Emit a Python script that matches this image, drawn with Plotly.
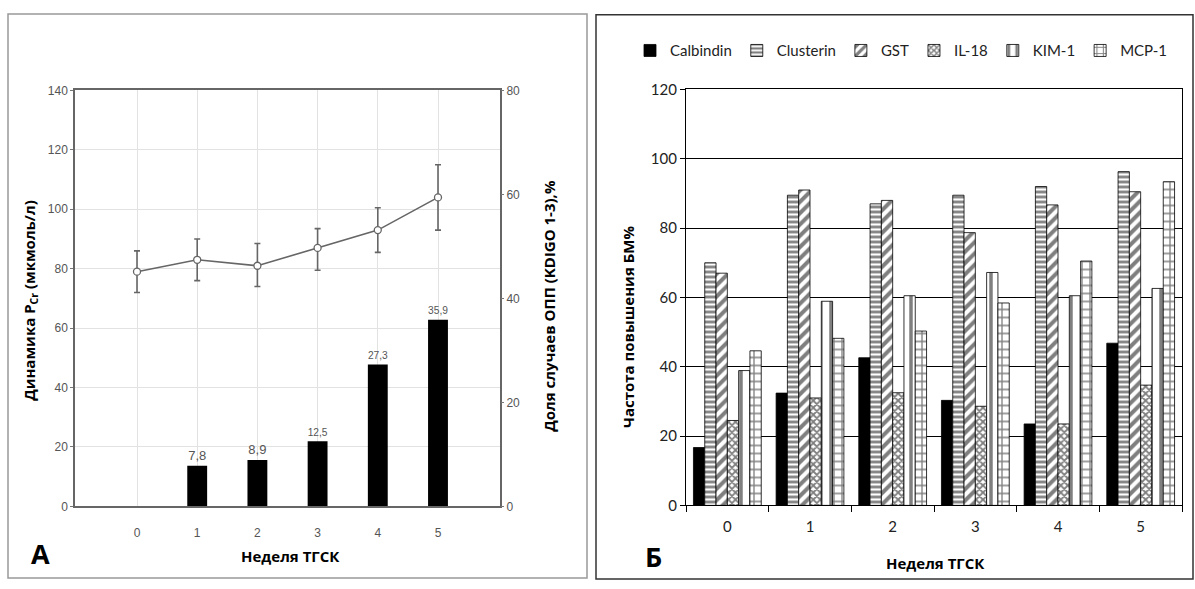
import plotly.graph_objects as go

# ---- Panel A: creatinine dynamics and share of AKI cases ----
weeks = [0, 1, 2, 3, 4, 5]
pcr_mean = [79, 83, 81, 87, 93, 104]
pcr_low = [72, 76, 74, 79.5, 85.5, 93]
pcr_high = [86, 90, 88.5, 93.5, 100.5, 115]

aki_weeks = [1, 2, 3, 4, 5]
aki_share = [7.8, 8.9, 12.5, 27.3, 35.9]

# ---- Panel B: frequency of biomarker elevation ----
week_labels = ["0", "1", "2", "3", "4", "5"]
biomarkers = ["Calbindin", "Clusterin", "GST", "IL-18", "KIM-1", "MCP-1"]
calbindin = [16.7, 32.4, 42.6, 30.3, 23.5, 46.8]
clusterin = [70, 89.5, 87, 89.5, 92, 96.3]
gst = [67, 91, 88, 78.7, 86.7, 90.5]
il18 = [24.5, 31, 32.5, 28.6, 23.5, 34.7]
kim1 = [38.9, 58.9, 60.5, 67.2, 60.5, 62.6]
mcp1 = [44.6, 48.2, 50.3, 58.4, 70.5, 93.4]
series_b = [calbindin, clusterin, gst, il18, kim1, mcp1]

W, H = 1195, 589


def px(x):
    return x / W


def py(y):
    return 1 - y / H


fig = go.Figure()

# Panel A traces
fig.add_trace(go.Bar(
    x=aki_weeks, y=aki_share, yaxis="y2", xaxis="x",
    width=0.33, marker=dict(color="black", line=dict(width=0)),
    text=[f"{v:.1f}".replace(".", ",") for v in aki_share],
    textposition="outside", cliponaxis=False,
    textfont=dict(family="Liberation Sans Narrow, Liberation Sans", size=13, color="#555"),
    showlegend=False,
))
fig.add_trace(go.Scatter(
    x=weeks, y=pcr_mean, xaxis="x", yaxis="y",
    mode="lines+markers",
    line=dict(color="#666", width=1.6),
    marker=dict(symbol="circle", size=7, color="white", line=dict(color="#666", width=1.3)),
    error_y=dict(type="data", symmetric=False,
                 array=[h - m for h, m in zip(pcr_high, pcr_mean)],
                 arrayminus=[m - l for m, l in zip(pcr_mean, pcr_low)],
                 color="#666", thickness=1.6, width=3),
    showlegend=False,
))

# Panel B traces
patterns = [
    dict(shape=""),
    dict(shape="-", size=5, solidity=0.55, fgcolor="black", bgcolor="white"),
    dict(shape="/", size=8, solidity=0.5, fgcolor="black", bgcolor="white"),
    dict(shape="x", size=5, solidity=0.6, fgcolor="black", bgcolor="white"),
    dict(shape="|", size=10, solidity=0.35, fgcolor="black", bgcolor="white"),
    dict(shape="+", size=8, solidity=0.3, fgcolor="black", bgcolor="white"),
]
for name, vals, pat in zip(biomarkers, series_b, patterns):
    color = "black" if pat["shape"] == "" else "white"
    fig.add_trace(go.Bar(
        x=week_labels, y=vals, name=name, xaxis="x2", yaxis="y3",
        marker=dict(color=color, pattern=pat, line=dict(color="black", width=0.8)),
    ))

tick_a = dict(family="Liberation Sans Narrow, Liberation Sans", size=12, color="#555")
tick_b = dict(family="Lato, Open Sans", size=15, color="#222")
title_font = dict(family="Open Sans", size=15, color="black")

fig.update_layout(
    width=W, height=H,
    margin=dict(l=0, r=0, t=0, b=0),
    paper_bgcolor="white", plot_bgcolor="rgba(0,0,0,0)",
    barmode="group", bargap=0.18, bargroupgap=0,
    xaxis=dict(domain=[px(75), px(500)], range=[-1.03, 6.03],
               tickvals=weeks, ticktext=[str(w) for w in weeks],
               showgrid=True, gridcolor="#e2e2e2", zeroline=False,
               showline=True, linecolor="#666", linewidth=1.5, mirror=True,
               ticks="", ticklabelstandoff=14, tickfont=tick_a, anchor="y"),
    yaxis=dict(domain=[py(512), py(83)], range=[0, 140], dtick=20,
               showgrid=True, gridcolor="#e2e2e2", zeroline=False,
               showline=True, linecolor="#666", linewidth=1.5, mirror=True,
               ticks="outside", ticklen=3, tickcolor="#777",
               tickfont=tick_a, anchor="x"),
    yaxis2=dict(overlaying="y", side="right", range=[0, 80], dtick=20,
                showgrid=False, zeroline=False, ticks="outside", ticklen=3,
                tickcolor="#777", tickfont=tick_a, anchor="x"),
    xaxis2=dict(domain=[px(686), px(1182)], type="category",
                categoryorder="array", categoryarray=week_labels,
                tickson="boundaries", ticks="outside", ticklen=6, tickcolor="black",
                showgrid=False, showline=True, linecolor="black", linewidth=1.2,
                mirror=True, tickfont=tick_b, ticklabelstandoff=8, anchor="y3"),
    yaxis3=dict(domain=[py(511), py(82)], range=[0, 120], dtick=20,
                showgrid=True, gridcolor="black", gridwidth=1, zeroline=False,
                showline=True, linecolor="black", linewidth=1.2, mirror=True,
                ticks="outside", ticklen=5, tickcolor="black",
                tickfont=tick_b, anchor="x2"),
    legend=dict(orientation="h", x=px(630), y=py(42), xanchor="left", yanchor="middle",
                font=dict(family="Lato, Open Sans", size=15, color="#222"),
                itemwidth=30, tracegroupgap=0, bgcolor="rgba(0,0,0,0)"),
    shapes=[
        dict(type="rect", xref="paper", yref="paper",
             x0=px(8), x1=px(587), y0=py(586), y1=py(4),
             line=dict(color="#999", width=1.5)),
        dict(type="rect", xref="paper", yref="paper",
             x0=px(596), x1=px(1193), y0=py(587), y1=py(5),
             line=dict(color="#333", width=1.5)),
    ],
    annotations=[
        dict(text="<b>Динамика P<sub>Cr</sub> (мкмоль/л)</b>", textangle=-90,
             x=px(30), y=py(300), xref="paper", yref="paper", showarrow=False,
             font=title_font, xanchor="center", yanchor="middle"),
        dict(text="<b>Доля случаев ОПП (KDIGO 1-3),%</b>", textangle=-90,
             x=px(549), y=py(305), xref="paper", yref="paper", showarrow=False,
             font=title_font, xanchor="center", yanchor="middle"),
        dict(text="<b>Неделя ТГСК</b>", x=px(290), y=py(563), xref="paper", yref="paper",
             showarrow=False, font=title_font, xanchor="center", yanchor="middle"),
        dict(text="<b>А</b>", x=px(40), y=py(561), xref="paper", yref="paper",
             showarrow=False, font=dict(family="Open Sans", size=27, color="black"),
             xanchor="center", yanchor="middle"),
        dict(text="<b>Частота повышения БМ%</b>", textangle=-90,
             x=px(628), y=py(327), xref="paper", yref="paper", showarrow=False,
             font=title_font, xanchor="center", yanchor="middle"),
        dict(text="<b>Неделя ТГСК</b>", x=px(935), y=py(570), xref="paper", yref="paper",
             showarrow=False, font=title_font, xanchor="center", yanchor="middle"),
        dict(text="<b>Б</b>", x=px(653), y=py(564), xref="paper", yref="paper",
             showarrow=False, font=dict(family="Open Sans", size=27, color="black"),
             xanchor="center", yanchor="middle"),
    ],
)

fig.write_html("out.html")
